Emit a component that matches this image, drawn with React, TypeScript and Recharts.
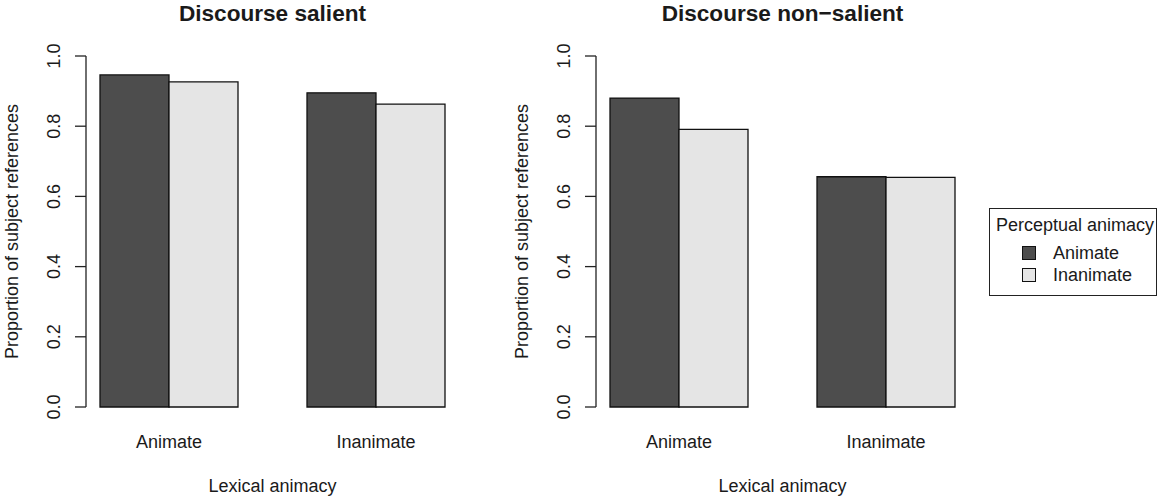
import React from 'react';
import { BarChart, Bar, XAxis, YAxis } from 'recharts';

const lexicalCategories = ['Animate', 'Inanimate'];
const perceptualSeries = ['Animate', 'Inanimate'];
const salientAnimate = [0.946, 0.895];
const salientInanimate = [0.926, 0.863];
const nonSalientAnimate = [0.88, 0.656];
const nonSalientInanimate = [0.791, 0.654];
const yTicks = [0, 0.2, 0.4, 0.6, 0.8, 1.0];
const panelTitles = ['Discourse salient', 'Discourse non\u2212salient'];

const DARK = '#4d4d4d';
const LIGHT = '#e5e5e5';
const FONT = '"Liberation Sans", Arial, Helvetica, sans-serif';
const TEXT = '#1a1a1a';

const buildData = (a: number[], b: number[]) =>
  lexicalCategories.map((c, i) => ({ lex: c, animate: a[i], inanimate: b[i] }));

const YTick = (props: any) => {
  const { x, y, payload } = props;
  const cx = x - 21;
  return (
    <text
      x={cx}
      y={y}
      transform={`rotate(-90, ${cx}, ${y})`}
      textAnchor="middle"
      dominantBaseline="central"
      fontSize={18}
      fontFamily={FONT}
      fill={TEXT}
    >
      {Number(payload.value).toFixed(1)}
    </text>
  );
};

const XTick = (props: any) => {
  const { x, y, payload } = props;
  return (
    <text x={x} y={y + 35} textAnchor="middle" dominantBaseline="central" fontSize={18} fontFamily={FONT} fill={TEXT}>
      {payload.value}
    </text>
  );
};

const Panel = ({ data, title, left }: { data: any[]; title: string; left: number }) => {
  const W = 510;
  const H = 496;
  return (
    <div style={{ position: 'absolute', left, top: 0, width: W, height: H }}>
      <BarChart
        width={W}
        height={H}
        data={data}
        margin={{ top: 56, right: 51, bottom: 59, left: 36 }}
        barCategoryGap={34.5}
        barGap={0}
      >
        <XAxis
          dataKey="lex"
          axisLine={false}
          tickLine={false}
          tickSize={0}
          tickMargin={0}
          height={30}
          padding={{ left: -20.5, right: -20.5 }}
          tick={<XTick />}
          interval={0}
          label={(p: any) => {
            const vb = p.viewBox || {};
            return (
              <text
                x={vb.x + vb.width / 2}
                y={vb.y + 79}
                textAnchor="middle"
                dominantBaseline="central"
                fontSize={18}
                fontFamily={FONT}
                fill={TEXT}
              >
                Lexical animacy
              </text>
            );
          }}
        />
        <YAxis
          domain={[0, 1]}
          ticks={yTicks}
          width={50}
          tickSize={11}
          tickMargin={0}
          axisLine={{ stroke: '#222', strokeWidth: 1.3 }}
          tickLine={{ stroke: '#222', strokeWidth: 1.3 }}
          tick={<YTick />}
          interval={0}
          label={(p: any) => {
            const vb = p.viewBox || {};
            const cx = vb.x - 24;
            const cy = vb.y + vb.height / 2;
            return (
              <text
                x={cx}
                y={cy}
                transform={`rotate(-90, ${cx}, ${cy})`}
                textAnchor="middle"
                dominantBaseline="central"
                fontSize={18}
                fontFamily={FONT}
                fill={TEXT}
              >
                Proportion of subject references
              </text>
            );
          }}
        />
        <Bar dataKey="animate" name={perceptualSeries[0]} fill={DARK} stroke="#111" strokeWidth={1.3} isAnimationActive={false} />
        <Bar dataKey="inanimate" name={perceptualSeries[1]} fill={LIGHT} stroke="#111" strokeWidth={1.3} isAnimationActive={false} />
      </BarChart>
      <div
        style={{
          position: 'absolute',
          left: 86,
          width: 373,
          top: 0,
          height: 28,
          lineHeight: '28px',
          textAlign: 'center',
          fontFamily: FONT,
          fontWeight: 'bold',
          fontSize: 22.6,
          color: TEXT,
        }}
      >
        {title}
      </div>
    </div>
  );
};

const LegendBox = () => (
  <div
    style={{
      position: 'absolute',
      left: 989,
      top: 208,
      width: 168,
      height: 88,
      border: '1.3px solid #222',
      fontFamily: FONT,
      fontSize: 18,
      color: TEXT,
      boxSizing: 'border-box',
    }}
  >
    <div style={{ position: 'absolute', left: 6, top: 5, lineHeight: '22px', whiteSpace: 'nowrap' }}>Perceptual animacy</div>
    {perceptualSeries.map((s, i) => (
      <div key={s} style={{ position: 'absolute', left: 32, top: 33 + i * 22, height: 22, display: 'flex', alignItems: 'center' }}>
        <div
          style={{
            width: 14,
            height: 14,
            background: i === 0 ? DARK : LIGHT,
            border: '1.3px solid #111',
            boxSizing: 'border-box',
          }}
        />
        <span style={{ marginLeft: 17, lineHeight: '22px' }}>{s}</span>
      </div>
    ))}
  </div>
);

export default function App() {
  return (
    <div style={{ position: 'absolute', left: 0, top: 0, width: 1159, height: 496, background: '#fff', overflow: 'hidden' }}>
      <Panel data={buildData(salientAnimate, salientInanimate)} title={panelTitles[0]} left={0} />
      <Panel data={buildData(nonSalientAnimate, nonSalientInanimate)} title={panelTitles[1]} left={510} />
      <LegendBox />
    </div>
  );
}
